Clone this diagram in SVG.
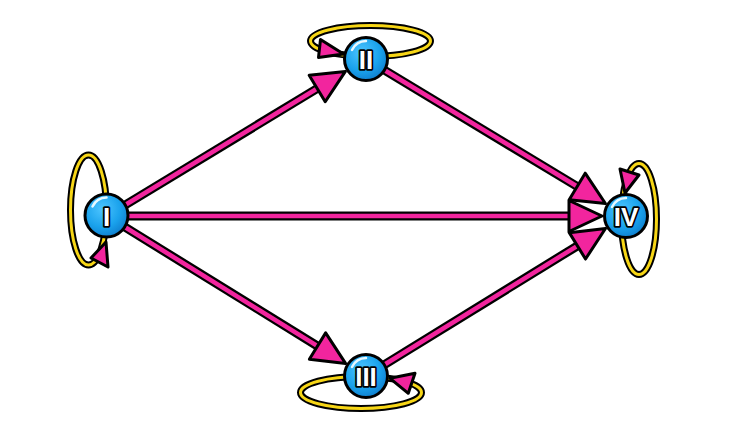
<svg xmlns="http://www.w3.org/2000/svg" width="750" height="437" viewBox="0 0 750 437">
<defs>
<radialGradient id="nodeGrad" cx="0.4" cy="0.35" r="0.7">
<stop offset="0" stop-color="#4cc4ff"/>
<stop offset="0.6" stop-color="#1aa2ec"/>
<stop offset="1" stop-color="#0e7ccc"/>
</radialGradient>
<marker id="arrow" markerUnits="userSpaceOnUse" markerWidth="40" markerHeight="40" refX="2" refY="0" viewBox="-3 -19 40 38" orient="auto" overflow="visible">
<path d="M0,-15.5 L33,0 L0,15.5 Z" fill="#f2259e" stroke="#000" stroke-width="3" stroke-linejoin="round"/>
</marker>
<style>
.eo{stroke:#000;stroke-width:9;fill:none;stroke-linecap:butt}
.ei{stroke:#f2259e;stroke-width:4.5;fill:none;stroke-linecap:butt}
.lo{stroke:#000;stroke-width:7;fill:none}
.li{stroke:#f7d616;stroke-width:3;fill:none}
.la{fill:#f2259e;stroke:#000;stroke-width:3;stroke-linejoin:round}
.nc{fill:url(#nodeGrad);stroke:#000;stroke-width:3}
.hl{fill:none;stroke:#e8f8ff;stroke-width:2.5;stroke-linecap:round}
.tx{font-family:"Liberation Sans",Arial,sans-serif;font-weight:bold;font-size:26px;fill:#fff;stroke:#000;stroke-width:3.5;paint-order:stroke;text-anchor:middle;dominant-baseline:central;stroke-linejoin:round}
</style>
</defs>
<g id="loops">
<g id="loop-I">
<ellipse class="lo" cx="88.5" cy="210" rx="18" ry="55"/>
<ellipse class="li" cx="88.5" cy="210" rx="18" ry="55"/>
</g>
<g id="loop-II">
<ellipse class="lo" cx="370.5" cy="41" rx="60" ry="15.5"/>
<ellipse class="li" cx="370.5" cy="41" rx="60" ry="15.5"/>
</g>
<g id="loop-III">
<ellipse class="lo" cx="361" cy="392.5" rx="60.5" ry="16"/>
<ellipse class="li" cx="361" cy="392.5" rx="60.5" ry="16"/>
</g>
<g id="loop-IV">
<ellipse class="lo" cx="639" cy="219" rx="17.5" ry="55.5"/>
<ellipse class="li" cx="639" cy="219" rx="17.5" ry="55.5"/>
</g>
</g>
<g id="connectors">
<g id="e-I-II">
<line class="eo" x1="107" y1="216" x2="318.9" y2="87.5"/>
<line class="ei" x1="107" y1="216" x2="318.9" y2="87.5" marker-end="url(#arrow)"/>
</g>
<g id="e-II-IV">
<line class="eo" x1="366" y1="59" x2="578.9" y2="187.5"/>
<line class="ei" x1="366" y1="59" x2="578.9" y2="187.5" marker-end="url(#arrow)"/>
</g>
<g id="e-I-IV">
<line class="eo" x1="107" y1="216" x2="571" y2="216"/>
<line class="ei" x1="107" y1="216" x2="571" y2="216" marker-end="url(#arrow)"/>
</g>
<g id="e-I-III">
<line class="eo" x1="107" y1="216" x2="319.2" y2="347.1"/>
<line class="ei" x1="107" y1="216" x2="319.2" y2="347.1" marker-end="url(#arrow)"/>
</g>
<g id="e-III-IV">
<line class="eo" x1="366" y1="376" x2="579.1" y2="244.8"/>
<line class="ei" x1="366" y1="376" x2="579.1" y2="244.8" marker-end="url(#arrow)"/>
</g>
</g>
<g id="loop-arrows">
<polygon class="la" points="106,242 91,258 108,267"/>
<polygon class="la" points="320.5,39.5 318.5,57.5 343.5,54"/>
<polygon class="la" points="390,378.3 415,373.3 408.3,393.3"/>
<polygon class="la" points="620,169 639,175 625,193"/>
</g>
<g id="node-I">
<circle class="nc" cx="106.5" cy="215.5" r="21.5"/>
<path class="hl" d="M92.5,206.5 A16,16 0 0 1 106.5,197.5"/>
<text class="tx" x="106.5" y="216.5">I</text>
</g>
<g id="node-II">
<circle class="nc" cx="366" cy="59" r="21.5"/>
<path class="hl" d="M352,50 A16,16 0 0 1 366,41"/>
<text class="tx" x="366" y="60">II</text>
</g>
<g id="node-III">
<circle class="nc" cx="366" cy="376" r="21.5"/>
<path class="hl" d="M352,367 A16,16 0 0 1 366,358"/>
<text class="tx" x="366" y="377">III</text>
</g>
<g id="node-IV">
<circle class="nc" cx="626" cy="216" r="21.5"/>
<path class="hl" d="M612,207 A16,16 0 0 1 626,198"/>
<text class="tx" x="626" y="217">IV</text>
</g>
</svg>
